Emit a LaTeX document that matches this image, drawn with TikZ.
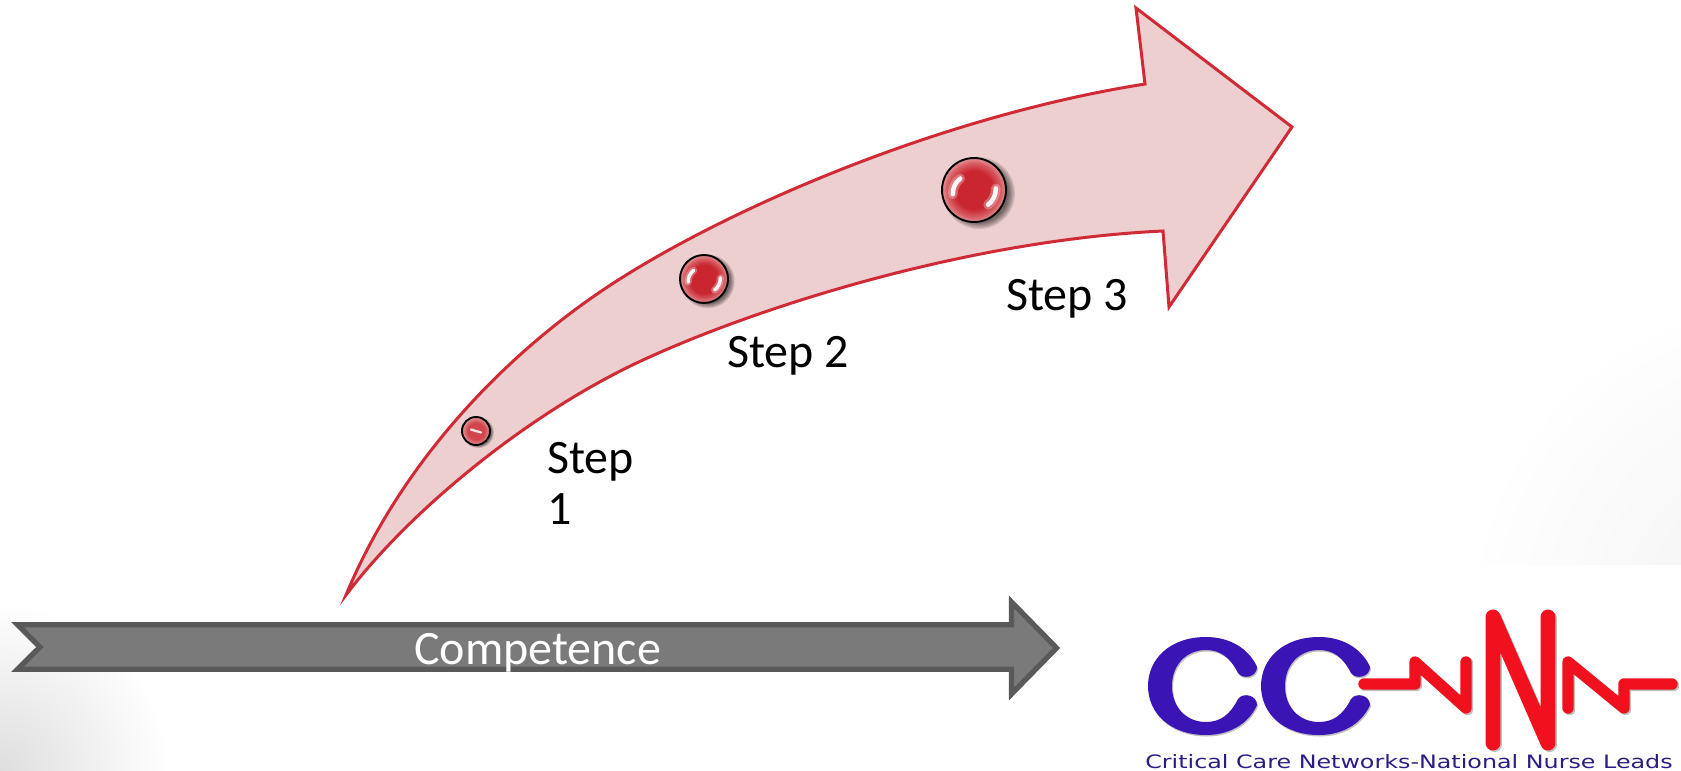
\documentclass[tikz,border=0pt]{standalone}
\usepackage{fontspec}
\setmainfont{Carlito}
\newfontfamily\logofont[FakeStretch=1.29]{DejaVu Sans}
\usetikzlibrary{calc}
\definecolor{SweepFill}{HTML}{ECCFCE}
\definecolor{SweepLine}{HTML}{D02A36}
\definecolor{BarFill}{HTML}{7A7A7A}
\definecolor{BarLine}{HTML}{595959}
\definecolor{BallRed}{HTML}{C9262F}
\definecolor{LogoBlue}{HTML}{3A14B4}
\definecolor{LogoRed}{HTML}{F0101E}
\definecolor{LogoText}{HTML}{2E1C86}
\definecolor{CornerGrey}{HTML}{DEDEDE}
\pgfdeclareradialshading{ballshade}{\pgfpoint{0bp}{0bp}}{%
  color(0bp)=(BallRed); color(15bp)=(BallRed); color(21bp)=(BallRed!75!white); color(25bp)=(BallRed!50!white); color(50bp)=(BallRed!50!white)}
\pgfdeclareradialshading{cornershade}{\pgfpoint{0bp}{0bp}}{%
  color(0bp)=(CornerGrey); color(25bp)=(white); color(50bp)=(white)}
\tikzset{
  label/.style={font=\fontsize{27.3}{29}\selectfont,align=left,anchor=west,inner sep=0pt},
  sweep/.style={fill=SweepFill,draw=SweepLine,line width=1.7pt,line join=miter},
  bar/.style={fill=BarFill,draw=BarLine,line width=3pt,miter limit=10},
  logo/.style={line cap=round,line join=round},
  spark/.style={white,line cap=round}
}
\begin{document}
\begin{tikzpicture}[x=0.02cm,y=-0.02cm]
  \useasboundingbox (0,0) rectangle (1681,771);
  \fill[white] (0,0) rectangle (1681,771);
  % corners of the slide
  \begin{scope}
    \clip (0,0) rectangle (1681,771);
    \shade[shading=cornershade] (0,771) circle (170);
    \shade[shading=cornershade,opacity=0.4] (1790,620) circle (320);
    \fill[white] (1100,565) rectangle (1681,771);
  \end{scope}

  % curved arrow
  \draw[sweep] (346,595) .. controls (400,465) and (500,360) .. (600,292)
    .. controls (710,217) and (930,118) .. (1145,84)
    -- (1136,8) -- (1292,127) -- (1169,307) -- (1163,231)
    .. controls (970,240) and (760,306) .. (643,360)
    .. controls (530,412) and (410,510) .. cycle;

  \foreach \name/\x/\y/\r in {One/476/431/14,Two/704/279/24,Three/974/190/32}
  {
    \foreach \k in {1,...,6}
      \fill[black,opacity=0.11] ({\x+\r*0.16},{\y+\r*0.1}) circle ({\r*(0.88+0.04*\k)});
    \node[circle,draw=black,line width=1.1pt,minimum size={\r*0.04cm},inner sep=0pt,shading=ballshade] (ball\name) at (\x,\y) {};
  }
  \foreach \name/\r in {Two/24,Three/32}
  {
    \foreach \w/\o in {0.17/0.3,0.08/0.95}
    {
      \draw[spark,line width={\r*\w*1pt},opacity=\o]
        ($(ball\name)+(-0.66*\r,0.13*\r)$) to[bend left=25] ($(ball\name)+(-0.43*\r,-0.36*\r)$);
      \draw[spark,line width={\r*\w*1pt},opacity=\o]
        ($(ball\name)+(0.44*\r,0.46*\r)$) to[bend right=25] ($(ball\name)+(0.68*\r,-0.05*\r)$);
    }
  }
  \fill[white,opacity=0.15] (ballOne) circle (13);
  \draw[spark,line width=1.3pt,opacity=0.85] ($(ballOne)+(-5,-1.5)$) -- ($(ballOne)+(5,1.5)$);

  \node[label] (stepOne) at (547,483) {Step\\1};
  \node[label] (stepTwo) at (727,356) {Step 2};
  \node[label] (stepThree) at (1006,299) {Step 3};

  % grey bar
  \draw[bar] (17.5,624.7) -- (1011.5,624.7) -- (1011.5,602) -- (1056.5,648) -- (1011.5,694) -- (1011.5,669.3) -- (17.5,669.3) -- (40,647) -- cycle;
  \node[label,white] (barText) at (414,653) {Competence};

  % logo
  \foreach \cx in {1148,1261}
  {
    \begin{scope}[shift={(\cx,637)}]
      \fill[black,opacity=0.25,shift={(1,1.5)}] (109,30) .. controls (100,10) and (80,0) .. (58,0) .. controls (22,0) and (0,22) .. (0,49)
        .. controls (0,76) and (22,98) .. (58,98) .. controls (80,98) and (100,88) .. (109,68)
        .. controls (109,58) and (95,55) .. (90,62) .. controls (82,78) and (72,85) .. (58,85)
        .. controls (38,85) and (24,70) .. (24,49) .. controls (24,28) and (38,13) .. (58,13)
        .. controls (72,13) and (82,20) .. (90,36) .. controls (95,43) and (109,40) .. cycle;
      \fill[LogoBlue] (109,30) .. controls (100,10) and (80,0) .. (58,0) .. controls (22,0) and (0,22) .. (0,49)
        .. controls (0,76) and (22,98) .. (58,98) .. controls (80,98) and (100,88) .. (109,68)
        .. controls (109,58) and (95,55) .. (90,62) .. controls (82,78) and (72,85) .. (58,85)
        .. controls (38,85) and (24,70) .. (24,49) .. controls (24,28) and (38,13) .. (58,13)
        .. controls (72,13) and (82,20) .. (90,36) .. controls (95,43) and (109,40) .. cycle;
    \end{scope}
  }
  \foreach \dx/\col/\o in {1.5/black/0.25,0/LogoRed/1}
  {
    \begin{scope}[shift={(\dx,\dx)},opacity=\o]
      \draw[logo,\col,line width=6.5pt] (1364,684) -- (1415,684) -- (1415,662) -- (1466,708) -- (1466,662);
      \draw[logo,\col,line width=8.5pt] (1493,743) -- (1493,617) -- (1548,743) -- (1548,617);
      \draw[logo,\col,line width=6.5pt] (1568,708) -- (1568,662) -- (1624,708) -- (1624,684) -- (1672,684);
    \end{scope}
  }
  \node[anchor=base,inner sep=0pt,text depth=0pt,text=LogoText,font=\logofont\fontsize{10.5}{12}\selectfont] (logoText) at (1409,768) {Critical Care Networks-National Nurse Leads};
\end{tikzpicture}
\end{document}
